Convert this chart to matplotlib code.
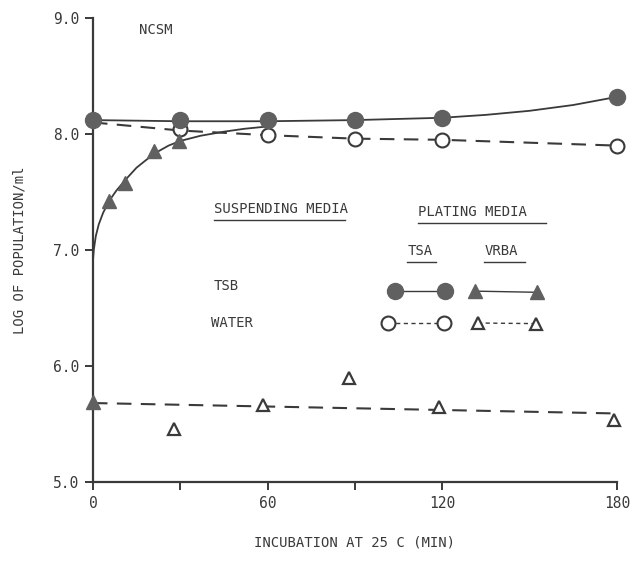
import matplotlib
matplotlib.use("Agg")
import matplotlib.pyplot as plt

plt.rcParams['font.family'] = ['DejaVu Sans Mono']

# TSB suspended, plated on TSA (filled circles, solid)
tsb_tsa_x = [0, 30, 60, 90, 120, 180]
tsb_tsa_y = [8.12, 8.12, 8.12, 8.12, 8.14, 8.32]
# hand-drawn fit through the circles
tsb_tsa_fit_x = [0, 30, 60, 90, 120, 135, 150, 165, 180]
tsb_tsa_fit_y = [8.12, 8.11, 8.11, 8.12, 8.14, 8.165, 8.2, 8.25, 8.32]

# water suspended, plated on TSA (open circles, dashed)
water_tsa_x = [30, 60, 90, 120, 180]
water_tsa_y = [8.04, 7.99, 7.96, 7.95, 7.90]
water_tsa_fit_x = [0, 30, 60, 90, 120, 180]
water_tsa_fit_y = [8.10, 8.03, 7.99, 7.96, 7.95, 7.90]

# TSB suspended, plated on VRBA (filled triangles, solid curve)
tsb_vrba_x = [0, 5.5, 11, 21, 29.5]
tsb_vrba_y = [5.69, 7.42, 7.58, 7.85, 7.94]
tsb_vrba_fit_x = [0, 0, 0.3, 1, 2, 3.5, 5.5, 8, 11, 15, 21, 26, 30, 37, 45, 52, 60]
tsb_vrba_fit_y = [5.69, 6.9, 7.0, 7.12, 7.22, 7.32, 7.42, 7.51, 7.6, 7.71, 7.83,
                  7.9, 7.94, 7.985, 8.02, 8.045, 8.065]

# water suspended, plated on VRBA (open triangles, dashed)
water_vrba_x = [28, 58.5, 88, 119, 179]
water_vrba_y = [5.46, 5.66, 5.90, 5.65, 5.53]
water_vrba_fit_x = [0, 180]
water_vrba_fit_y = [5.68, 5.59]

x_ticks = [0, 30, 60, 90, 120, 180]
x_labels = ['0', '', '60', '', '120', '180']
y_ticks = [5.0, 6.0, 7.0, 8.0, 9.0]

ink = '#3a3a3a'
fill = '#606060'
dash = (0, (7, 4.5))

fig = plt.figure(figsize=(6.32, 5.82), dpi=100)
ax = fig.add_axes([0.147, 0.172, 0.829, 0.797])

# fitted lines
ax.plot(tsb_tsa_fit_x, tsb_tsa_fit_y, color=ink, lw=1.3, clip_on=False)
ax.plot(water_tsa_fit_x, water_tsa_fit_y, color=ink, lw=1.5, linestyle=dash, clip_on=False)
ax.plot(tsb_vrba_fit_x, tsb_vrba_fit_y, color=ink, lw=1.3, clip_on=False)
ax.plot(water_vrba_fit_x, water_vrba_fit_y, color=ink, lw=1.5, linestyle=dash, clip_on=False)

# data points
ax.plot(water_tsa_x, water_tsa_y, 'o', ms=10, mfc='white', mec=ink, mew=1.5,
        clip_on=False, zorder=4)
ax.plot(tsb_tsa_x, tsb_tsa_y, 'o', ms=11.5, mfc=fill, mec=fill, clip_on=False, zorder=5)
ax.plot(tsb_vrba_x, tsb_vrba_y, '^', ms=10, mfc=fill, mec=fill, clip_on=False, zorder=5)
ax.plot(water_vrba_x, water_vrba_y, '^', ms=8.5, mfc='white', mec=ink, mew=1.6,
        clip_on=False, zorder=5)

# in-plot key
ax.text(15.8, 8.9, 'NCSM', fontsize=10, color=ink, va='center')
ax.text(41.5, 7.35, 'SUSPENDING MEDIA', fontsize=10, color=ink, va='center')
ax.plot([41.5, 86.5], [7.26, 7.26], color=ink, lw=1)
ax.text(111.8, 7.33, 'PLATING MEDIA', fontsize=10, color=ink, va='center')
ax.plot([111.8, 155.5], [7.23, 7.23], color=ink, lw=1)
ax.text(108, 6.99, 'TSA', fontsize=10, color=ink, va='center')
ax.plot([108, 118], [6.9, 6.9], color=ink, lw=1)
ax.text(134.5, 6.99, 'VRBA', fontsize=10, color=ink, va='center')
ax.plot([134.5, 148.5], [6.9, 6.9], color=ink, lw=1)
ax.text(41.5, 6.69, 'TSB', fontsize=10, color=ink, va='center')
ax.text(40.5, 6.37, 'WATER', fontsize=10, color=ink, va='center')

ax.plot([103.9, 121], [6.645, 6.645], color=ink, lw=1, marker='o', ms=11.5,
        mfc=fill, mec=fill)
ax.plot([131.3, 152.6], [6.645, 6.635], color=ink, lw=1, marker='^', ms=10,
        mfc=fill, mec=fill)
ax.plot([101.5, 120.7], [6.37, 6.37], color=ink, lw=1, linestyle=(0, (3, 2.5)),
        marker='o', ms=10, mfc='white', mec=ink, mew=1.5)
ax.plot([132.3, 152.2], [6.37, 6.365], color=ink, lw=1, linestyle=(0, (3, 2.5)),
        marker='^', ms=8.5, mfc='white', mec=ink, mew=1.6)

ax.set_xlim(0, 180)
ax.set_ylim(5.0, 9.0)
ax.set_xticks(x_ticks)
ax.set_xticklabels(x_labels)
ax.set_yticks(y_ticks)
ax.set_yticklabels([f'{v:.1f}' for v in y_ticks])
ax.tick_params(axis='both', direction='out', length=6, width=1.4, color=ink,
               labelcolor=ink, labelsize=10.5, pad=4)

for side in ['top', 'right']:
    ax.spines[side].set_visible(False)
for side in ['left', 'bottom']:
    ax.spines[side].set_linewidth(1.6)
    ax.spines[side].set_color(ink)

ax.set_ylabel('LOG OF POPULATION/ml', fontsize=10, color=ink, labelpad=19)
ax.set_xlabel('INCUBATION AT 25 C (MIN)', fontsize=10, color=ink, labelpad=18)

fig.savefig('out.png', dpi=100)
